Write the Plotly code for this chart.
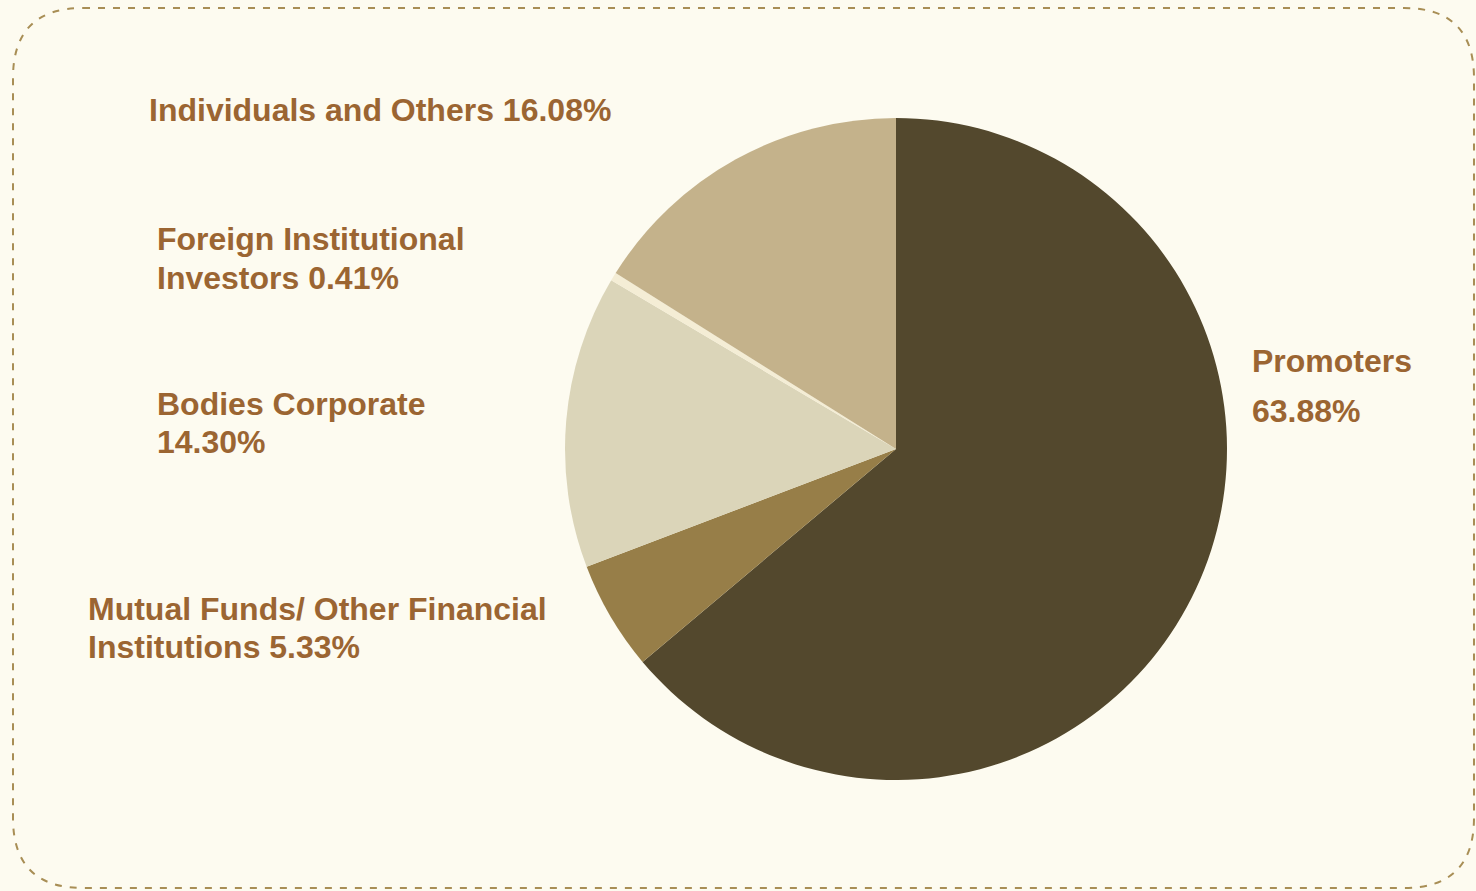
import plotly.graph_objects as go

W, H = 1476, 891

# Shareholding pattern
categories = [
    "Promoters",
    "Mutual Funds/ Other Financial Institutions",
    "Bodies Corporate",
    "Foreign Institutional Investors",
    "Individuals and Others",
]
shares = [63.88, 5.33, 14.30, 0.41, 16.08]
colors = ["#53482D", "#977E48", "#DBD5B9", "#F4EDD5", "#C4B28B"]

# label text blocks (line splits) and their anchor points in pixels
label_lines = [
    ["Promoters", "63.88%"],
    ["Mutual Funds/ Other Financial", "Institutions 5.33%"],
    ["Bodies Corporate", "14.30%"],
    ["Foreign Institutional", "Investors 0.41%"],
    ["Individuals and Others 16.08%"],
]
label_pos = [(1250, 386), (86, 628), (155, 423), (155, 258), (147, 110)]
label_gap = [51, 38, 38, 39, 0]

fig = go.Figure()
fig.add_trace(go.Pie(
    labels=categories,
    values=shares,
    sort=False,
    direction="clockwise",
    rotation=0,
    marker=dict(colors=colors, line=dict(width=0)),
    textinfo="none",
    hoverinfo="label+percent",
    showlegend=False,
    domain=dict(x=[565 / W, 1227 / W], y=[(H - 781) / H, (H - 117) / H]),
))

annotations = []
for lines, (px, py), gap in zip(label_lines, label_pos, label_gap):
    n = len(lines)
    for i, line in enumerate(lines):
        cy = py + (i - (n - 1) / 2) * gap
        annotations.append(dict(
            text=line, x=px / W, y=1 - cy / H, xref="paper", yref="paper",
            xanchor="left", yanchor="middle", showarrow=False,
            font=dict(family="Liberation Sans, Arial, sans-serif", size=32,
                      color="#9B6532", weight="bold"),
        ))

# dashed rounded frame
x0, y0, x1, y1, r = 13, 8, 1474, 888, 70
def p(x, y):
    return f"{x / W:.5f},{1 - y / H:.5f}"
path = (
    f"M {p(x0 + r, y0)} L {p(x1 - r, y0)} Q {p(x1, y0)} {p(x1, y0 + r)} "
    f"L {p(x1, y1 - r)} Q {p(x1, y1)} {p(x1 - r, y1)} "
    f"L {p(x0 + r, y1)} Q {p(x0, y1)} {p(x0, y1 - r)} "
    f"L {p(x0, y0 + r)} Q {p(x0, y0)} {p(x0 + r, y0)} Z"
)

fig.update_layout(
    width=W, height=H,
    margin=dict(l=0, r=0, t=0, b=0),
    paper_bgcolor="#FDFBF0",
    plot_bgcolor="#FDFBF0",
    annotations=annotations,
    shapes=[dict(type="path", path=path, xref="paper", yref="paper",
                 line=dict(color="#A88E55", width=2, dash="7px,8px"))],
)

fig.write_html("out.html")
